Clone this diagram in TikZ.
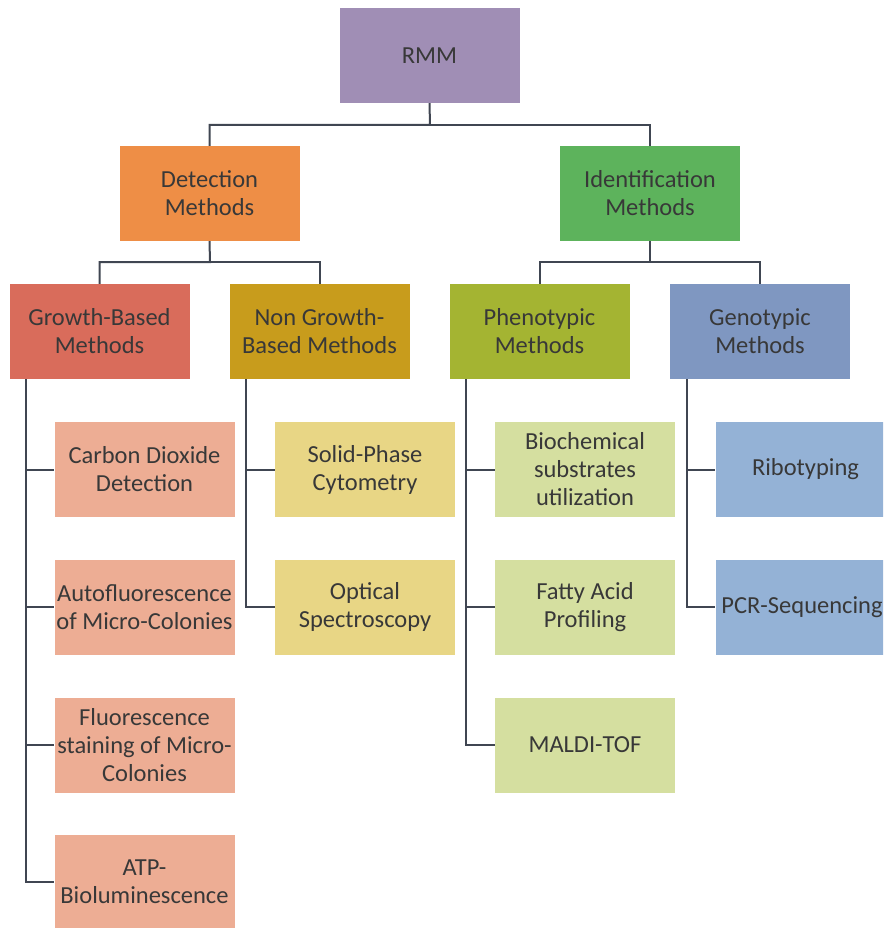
\documentclass[tikz,border=0pt]{standalone}
\usepackage{fontspec}
\setmainfont{Carlito}
\definecolor{cRoot}{HTML}{A08EB5}
\definecolor{cDet}{HTML}{EE8E46}
\definecolor{cIdent}{HTML}{5DB35C}
\definecolor{cGrow}{HTML}{D96C5B}
\definecolor{cNonGrow}{HTML}{C89C1C}
\definecolor{cPheno}{HTML}{A4B432}
\definecolor{cGeno}{HTML}{7F97C1}
\definecolor{cGrowL}{HTML}{EDAD94}
\definecolor{cNonGrowL}{HTML}{E8D685}
\definecolor{cPhenoL}{HTML}{D5DFA0}
\definecolor{cGenoL}{HTML}{94B2D6}
\definecolor{cLine}{HTML}{404652}
\definecolor{cText}{HTML}{383838}
\begin{document}
\begin{tikzpicture}[x=1pt,y=-1pt,
  box/.style={rectangle, inner sep=0pt, minimum width=180pt, minimum height=95pt,
    align=center, text=cText, font=\fontsize{24.5}{28}\selectfont},
  link/.style={draw=cLine, line width=2pt}]
\useasboundingbox (0,0) rectangle (883,928);
\clip (0,0) rectangle (883,928);
% root and first level
\node[box, fill=cRoot] (rmm) at (429.5,55.5) {RMM};
\node[box, fill=cDet] (det) at (209.5,193.5) {Detection\\Methods};
\node[box, fill=cIdent] (ident) at (650,193.5) {Identification\\Methods};
% second level
\node[box, fill=cGrow] (grow) at (99.5,331.5) {Growth-Based\\Methods};
\node[box, fill=cNonGrow] (nongrow) at (319.5,331.5) {Non Growth-\\Based Methods};
\node[box, fill=cPheno] (pheno) at (539.5,331.5) {Phenotypic\\Methods};
\node[box, fill=cGeno] (geno) at (760,331.5) {Genotypic\\Methods};
% growth-based methods
\node[box, fill=cGrowL] (g1) at (144.5,469.5) {Carbon Dioxide\\Detection};
\node[box, fill=cGrowL] (g2) at (144.5,607) {Autofluorescence\\of Micro-Colonies};
\node[box, fill=cGrowL] (g3) at (144.5,745) {Fluorescence\\staining of Micro-\\Colonies};
\node[box, fill=cGrowL] (g4) at (144.5,882) {ATP-\\Bioluminescence};
% non growth-based methods
\node[box, fill=cNonGrowL] (n1) at (365,469.5) {Solid-Phase\\Cytometry};
\node[box, fill=cNonGrowL] (n2) at (365,607) {Optical\\Spectroscopy};
% phenotypic methods
\node[box, fill=cPhenoL] (p1) at (585,469.5) {Biochemical\\substrates\\utilization};
\node[box, fill=cPhenoL] (p2) at (585,607) {Fatty Acid\\Profiling};
\node[box, fill=cPhenoL] (p3) at (585,745) {MALDI-TOF};
% genotypic methods
\node[box, fill=cGenoL] (e1) at (805.5,469.5) {Ribotyping};
\node[box, fill=cGenoL] (e2) at (805.5,607) {PCR-Sequencing\hspace*{7pt}};
% tree connectors
\coordinate (j0) at (430,125);
\draw[link] (rmm.south) -- (j0) -| (det.north);
\draw[link] (j0) -| (ident.north);
\coordinate (j1) at (210,262);
\draw[link] (det.south) -- (j1) -| (grow.north);
\draw[link] (j1) -| (nongrow.north);
\coordinate (j2) at (650,262);
\draw[link] (ident.south) -- (j2) -| (pheno.north);
\draw[link] (j2) -| (geno.north);
% side trunks
\coordinate (tg) at ([xshift=17pt]grow.south west);
\draw[link] (tg) |- (g1.west);
\draw[link] (tg) |- (g2.west);
\draw[link] (tg) |- (g3.west);
\draw[link] (tg) |- (g4.west);
\coordinate (tn) at ([xshift=17pt]nongrow.south west);
\draw[link] (tn) |- (n1.west);
\draw[link] (tn) |- (n2.west);
\coordinate (tp) at ([xshift=17pt]pheno.south west);
\draw[link] (tp) |- (p1.west);
\draw[link] (tp) |- (p2.west);
\draw[link] (tp) |- (p3.west);
\coordinate (te) at ([xshift=17pt]geno.south west);
\draw[link] (te) |- (e1.west);
\draw[link] (te) |- (e2.west);
\end{tikzpicture}
\end{document}
